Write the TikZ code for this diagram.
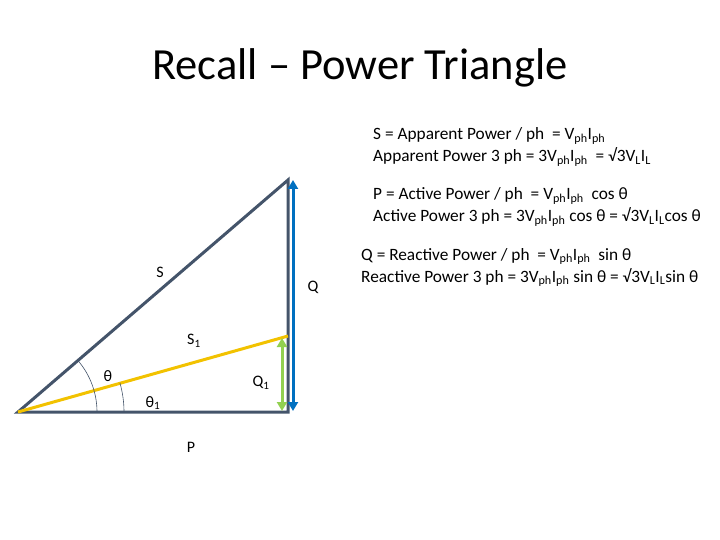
\documentclass[tikz,border=0pt]{standalone}
\usepackage{fontspec}
\setmainfont{Carlito}
\usetikzlibrary{arrows.meta}
\newcommand{\sbs}[1]{\textsubscript{#1}}
\begin{document}
\begin{tikzpicture}[x=1pt,y=-1pt,
  lbl/.style={font=\fontsize{16}{18}\selectfont},
  eq/.style={font=\fontsize{17.3}{22}\selectfont, anchor=base west, inner sep=0pt, align=left},
  tip/.style={{Triangle[length=9pt,width=10pt]}-{Triangle[length=9pt,width=10pt]}}]
\useasboundingbox (0,0) rectangle (720,540);
\coordinate (A) at (18,412);
\coordinate (B) at (288,412);
\coordinate (C) at (288,180);
\coordinate (D) at (288,336);
\draw[line width=3pt, draw={rgb,255:red,68;green,84;blue,106}] (A) -- (B) -- (C) -- cycle;
\draw[line width=3pt, draw={rgb,255:red,242;green,194;blue,0}] (A) -- (D);
\coordinate (g1) at (282,338); \coordinate (g2) at (282,411);
\draw[line width=3pt, draw={rgb,255:red,146;green,208;blue,80}, tip] (g1) -- (g2);
\coordinate (b1) at (293,180); \coordinate (b2) at (293,411);
\draw[line width=3pt, draw={rgb,255:red,0;green,112;blue,192}, tip] (b1) -- (b2);
\draw[draw={rgb,255:red,68;green,84;blue,106}, line width=0.6pt] (97,412) arc[start angle=0, end angle=-40, radius=79];
\draw[draw={rgb,255:red,68;green,84;blue,106}, line width=0.6pt] (124,412) arc[start angle=0, end angle=-16, radius=106];
\node[font=\fontsize{44.5}{52}\selectfont] (title) at (360,68) {Recall – Power Triangle};
\node[lbl] (S) at (160,272) {S};
\node[lbl] (Q) at (313,287) {Q};
\node[lbl] (S1) at (194,341) {S\sbs{1}};
\node[lbl] (th) at (108,376) {θ};
\node[lbl] (Q1) at (261,383) {Q\sbs{1}};
\node[lbl] (th1) at (153,403) {θ\sbs{1}};
\node[lbl] (P) at (191,447) {P};
\node[eq] (e1) at (373,140) {S = Apparent Power / ph \ = V\sbs{ph}I\sbs{ph}};
\node[eq] (e2) at (373,162) {Apparent Power 3 ph = 3V\sbs{ph}I\sbs{ph} \ = √3V\sbs{L}I\sbs{L}};
\node[eq] (e3) at (373,200) {P = Active Power / ph \ = V\sbs{ph}I\sbs{ph} \ cos θ};
\node[eq] (e4) at (373,222) {Active Power 3 ph = 3V\sbs{ph}I\sbs{ph} cos θ = √3V\sbs{L}I\sbs{L}cos θ};
\node[eq] (e5) at (361,260) {Q = Reactive Power / ph \ = V\sbs{ph}I\sbs{ph} \ sin θ};
\node[eq] (e6) at (361,282) {Reactive Power 3 ph = 3V\sbs{ph}I\sbs{ph} sin θ = √3V\sbs{L}I\sbs{L}sin θ};
\end{tikzpicture}
\end{document}
